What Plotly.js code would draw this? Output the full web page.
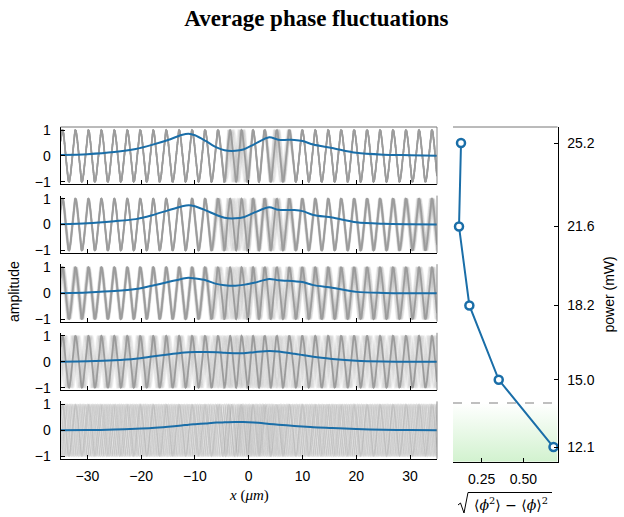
<!DOCTYPE html>
<html><head><meta charset="utf-8">
<script src="https://cdn.plot.ly/plotly-3.0.1.min.js"></script>
<style>html,body{margin:0;padding:0;background:#fff}#chart{width:624px;height:517px}</style>
</head><body><div id="chart"></div>
<script>
// ---------- data ----------
const blueX = [-35,-30,-25,-21,-18,-15,-12.5,-11.2,-10,-8,-6,-4.5,-2.5,-1,1,3.8,5.5,8.5,10,12,15.5,20,25,30,35];
const avgPanel1 = [0.04,0.07,0.15,0.27,0.43,0.62,0.81,0.86,0.80,0.58,0.33,0.22,0.20,0.25,0.45,0.72,0.63,0.62,0.58,0.44,0.31,0.12,0.05,0.03,0.01];
const avgPanel2 = [0.01,0.05,0.13,0.21,0.36,0.55,0.70,0.75,0.71,0.55,0.37,0.26,0.24,0.28,0.46,0.67,0.57,0.56,0.52,0.37,0.27,0.09,0.03,0.01,0.00];
const avgPanel3 = [0.00,0.03,0.08,0.16,0.29,0.43,0.55,0.60,0.57,0.50,0.36,0.31,0.29,0.32,0.40,0.55,0.50,0.46,0.43,0.31,0.21,0.05,0.01,0.00,0.00];
const avgPanel4 = [0.00,0.02,0.06,0.12,0.20,0.28,0.35,0.37,0.38,0.38,0.37,0.35,0.33,0.33,0.37,0.42,0.40,0.31,0.26,0.19,0.11,0.04,0.01,0.00,0.00];
const avgPanel5 = [0.00,0.01,0.03,0.06,0.09,0.14,0.19,0.22,0.24,0.27,0.30,0.31,0.32,0.32,0.30,0.25,0.22,0.17,0.15,0.12,0.09,0.05,0.02,0.01,0.00];

const power = [25.2, 21.6, 18.2, 15.0, 12.1];
const powerLabels = ['25.2','21.6','18.2','15.0','12.1'];
const phaseStd = [0.126, 0.114, 0.176, 0.352, 0.680];
const thresholdPower = 14.0;

const xTicks = [-30,-20,-10,0,10,20,30];
const ampTicks = [-1,0,1];
const stdTicks = [0.25, 0.50];
const stdTickText = ['0.25','0.50'];

// gray field realizations: wave parameters
const waveLength = 2.41;
const wavePeakX = -34.63;
const phaseKnotX = [-35,-25,-15,-8,-5,-3,-1,1,3,5,7,9,15,25,35];
const basePhase  = [0,0,0,0,0,0.5,1.2,1.9,2.5,2.9,3.14,3.14,3.14,3.14,3.14];
const spreadPanel1 = [0,0,0,0,0.1,1.2,1.0,0.1,0.2,1.0,0.5,0,0,0,0];
const spreadPanel2 = [0.2,0.1,0.1,0.2,0.6,1.5,1.3,0.5,0.5,1.0,0.6,0.3,0.2,0.3,0.6];
const spreadPanel3 = [0.5,0.3,0.3,0.4,1.0,1.6,1.4,0.8,0.8,1.2,0.9,0.7,0.6,0.7,0.8];
const spreadPanel4 = [1.2,1.0,1.0,1.2,1.8,2.2,2.0,1.6,1.6,1.8,1.5,1.4,1.3,1.3,1.4];
const spreadPanel5 = [3.5,3.2,3.6,3.3,3.8,4.0,3.6,3.4,3.7,3.3,3.6,3.4,3.2,3.5,3.6];
const realizationOffsets = [-1.8,-1.4,-1.1,-0.8,-0.55,-0.3,-0.1,0.1,0.3,0.55,0.8,1.1,1.4,1.8];

// ---------- layout constants ----------
const W = 624, H = 517;
const leftDom = [60.5/W, 437/W];
const rightDom = [453/W, 557.5/W];
const panelTops = [127, 195.6, 264.2, 332.8, 401.4];
const panelH = 57.4;
const yDom = t => [(H - (t + panelH))/H, (H - t)/H];

function knotInterp(kx, ky, x){
  if (x <= kx[0]) return ky[0];
  for (let i=1;i<kx.length;i++){
    if (x <= kx[i]) {
      let t = (x-kx[i-1])/(kx[i]-kx[i-1]);
      t = t*t*(3-2*t);
      return ky[i-1] + (ky[i]-ky[i-1])*t;
    }
  }
  return ky[ky.length-1];
}
const sampleX = [];
for (let i=0;i<=1400;i++) sampleX.push(-35 + i*0.05);

function waveTrace(spread, u, axisIdx, style){
  const y = sampleX.map(x => Math.cos(2*Math.PI*(x-wavePeakX)/waveLength + knotInterp(phaseKnotX, basePhase, x) + u*knotInterp(phaseKnotX, spread, x)));
  const s = axisIdx===1 ? '' : axisIdx;
  return {type:'scatter', mode:'lines', x: sampleX, y, xaxis:'x'+s, yaxis:'y'+s,
    line: style, hoverinfo:'skip', showlegend:false};
}

const spreads = [spreadPanel1, spreadPanel2, spreadPanel3, spreadPanel4, spreadPanel5];
const avgs = [avgPanel1, avgPanel2, avgPanel3, avgPanel4, avgPanel5];
const blue = '#1a6ea8';
const traces = [];
const layout = {
  width: W, height: H, autosize:false,
  margin:{l:0,r:0,t:0,b:0},
  paper_bgcolor:'#fff', plot_bgcolor:'rgba(0,0,0,0)',
  showlegend:false,
  font:{family:'Liberation Sans, Arial, sans-serif', size:14, color:'#000'},
  title:{text:'<b>Average phase fluctuations</b>', font:{family:'Liberation Serif, Times New Roman, serif', size:23, color:'#000'},
    x:0.507, xanchor:'center', y:1-18/H, yanchor:'middle'},
  shapes:[], annotations:[]
};

for (let p=0;p<5;p++){
  const idx = p+1; const s = idx===1?'':idx;
  const faintOpacity = p===4 ? 0.16 : 0.11;
  realizationOffsets.forEach(u => traces.push(waveTrace(spreads[p], u, idx, {color:'rgba(140,140,140,'+faintOpacity+')', width:1.5})));
  if (p < 4) traces.push(waveTrace(spreads[p], 0, idx, {color:'#9c9c9c', width:1.8}));
  traces.push({type:'scatter', mode:'lines', x: blueX, y: avgs[p], xaxis:'x'+s, yaxis:'y'+s,
    line:{color:blue, width:2, shape:'spline', smoothing:0.8}, hoverinfo:'skip'});
  layout['xaxis'+s] = {domain: leftDom, anchor:'y'+s, range:[-35,35], tickvals:xTicks, ticks:'inside', ticklen:4,
    tickcolor:'#000', showline:true, linecolor:'#000', linewidth:1, showgrid:false, zeroline:false,
    showticklabels: p===4, tickfont:{size:14}, ticklabelstandoff:4};
  layout['yaxis'+s] = {domain: yDom(panelTops[p]), anchor:'x'+s, range:[-1.1,1.12], tickvals:ampTicks, ticks:'inside', ticklen:4,
    tickcolor:'#000', showline:true, linecolor:'#000', linewidth:1, showgrid:false, zeroline:false, tickfont:{size:14}, ticklabelstandoff:6};
  const d = yDom(panelTops[p]);
  layout.shapes.push({type:'line', xref:'paper', yref:'paper', x0:leftDom[1], x1:leftDom[1], y0:d[0], y1:d[1], line:{color:'#888', width:1}});
}
layout.shapes.push({type:'line', xref:'paper', yref:'paper', x0:leftDom[0], x1:leftDom[1], y0:yDom(panelTops[0])[1], y1:yDom(panelTops[0])[1], line:{color:'#777', width:1}});

// right panel
const xr = [0.078, 0.704], yr = [11.47, 25.89];
traces.push({type:'scatter', mode:'lines', x:[xr[0],xr[1],xr[1],xr[0]], y:[thresholdPower,thresholdPower,yr[0],yr[0]],
  xaxis:'x6', yaxis:'y6', fill:'toself', line:{width:0, color:'rgba(0,0,0,0)'},
  fillgradient:{type:'vertical', colorscale:[[0,'#d2f2cf'],[1,'#ffffff']]}, hoverinfo:'skip'});
traces.push({type:'scatter', mode:'lines+markers', x: phaseStd, y: power, xaxis:'x6', yaxis:'y6',
  line:{color:blue, width:2}, marker:{symbol:'circle', size:8, color:'#fff', line:{color:blue, width:2.5}},
  cliponaxis:false, hoverinfo:'skip'});
layout.xaxis6 = {domain: rightDom, anchor:'y6', range:xr, tickvals:stdTicks, ticktext:stdTickText, ticks:'inside', ticklen:4,
  tickcolor:'#000', showline:true, linecolor:'#000', showgrid:false, zeroline:false, tickfont:{size:14}, ticklabelstandoff:4};
layout.yaxis6 = {domain:[(H-461.7)/H, (H-127)/H], anchor:'x6', side:'right', range:yr, tickvals:power, ticktext:powerLabels,
  ticks:'inside', ticklen:4, tickcolor:'#000', showline:true, linecolor:'#000', showgrid:false, zeroline:false,
  tickfont:{size:14}, ticklabelstandoff:6,
  title:{text:'power (mW)', font:{size:14}, standoff:10}};
layout.shapes.push({type:'line', xref:'x6 domain', yref:'y6', x0:0, x1:1, y0:thresholdPower, y1:thresholdPower, line:{color:'#808080', width:1.2, dash:'dash'}});
layout.shapes.push({type:'line', xref:'x6 domain', yref:'y6 domain', x0:0, x1:1, y0:1, y1:1, line:{color:'#777', width:1}});
// radical sign and overline of the square root in the x label
layout.shapes.push({type:'path', xref:'paper', yref:'paper',
  path:'M '+(458/W)+','+(1-505/H)+' L '+(460.5/W)+','+(1-503/H)+' L '+(464/W)+','+(1-513/H)+' L '+(468/W)+','+(1-492.5/H)+' L '+(552/W)+','+(1-492.5/H),
  line:{color:'#000', width:1}});

layout.annotations.push(
  {text:'amplitude', xref:'paper', yref:'paper', x:14/W, y:1-292/H, showarrow:false, textangle:-90, font:{size:14}, xanchor:'center', yanchor:'middle'},
  {text:'<i>x</i> (<i>μm</i>)', xref:'paper', yref:'paper', x:249/W, y:1-495/H, showarrow:false, font:{family:'Liberation Serif, serif', size:15}, xanchor:'center', yanchor:'middle'},
  {text:'⟨<i>ϕ</i><sup>2</sup>⟩ − ⟨<i>ϕ</i>⟩<sup>2</sup>', xref:'paper', yref:'paper', x:511/W, y:1-504/H, showarrow:false, font:{family:'DejaVu Serif, serif', size:14}, xanchor:'center', yanchor:'middle'}
);

Plotly.newPlot('chart', traces, layout, {staticPlot:true, displayModeBar:false});
</script></body></html>
